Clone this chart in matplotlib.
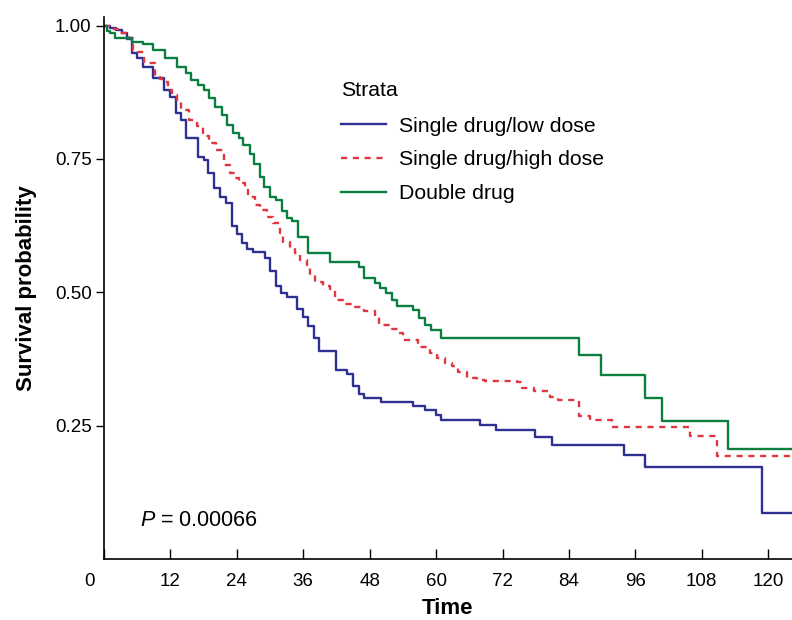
import matplotlib
matplotlib.use("Agg")
import matplotlib.pyplot as plt
import matplotlib.transforms as mtransforms

plt.rcParams['font.family'] = ['Liberation Sans', 'DejaVu Sans']
plt.rcParams['mathtext.fontset'] = 'custom'
plt.rcParams['mathtext.it'] = 'Liberation Sans:italic'
plt.rcParams['mathtext.rm'] = 'Liberation Sans'

# Kaplan-Meier steps (time, survival after the drop)
low_time = [0, 1.1, 2.1, 3.2, 4.1, 5.0, 5.9, 7.0, 8.9, 10.8, 12.0, 13.0, 13.9, 14.9,
            16.9, 18.0, 18.8, 19.9, 21.0, 22.0, 23.1, 24.0, 25.0, 25.9, 27.0, 29.1,
            30.0, 31.0, 31.9, 33.0, 34.9, 35.9, 36.9, 38.0, 38.9, 41.9, 43.9, 44.9,
            46.0, 47.0, 50.0, 55.9, 58.0, 60.0, 60.9, 68.0, 70.8, 77.9, 80.9, 93.9,
            97.8, 118.9]
low_surv = [1.0, 0.995, 0.991, 0.986, 0.975, 0.948, 0.939, 0.923, 0.901, 0.879, 0.866,
            0.836, 0.823, 0.790, 0.754, 0.748, 0.723, 0.695, 0.679, 0.668, 0.624, 0.609,
            0.592, 0.581, 0.576, 0.564, 0.539, 0.511, 0.498, 0.492, 0.468, 0.454, 0.436,
            0.415, 0.389, 0.354, 0.347, 0.324, 0.309, 0.301, 0.295, 0.287, 0.279, 0.270,
            0.261, 0.251, 0.242, 0.228, 0.214, 0.195, 0.173, 0.086]

high_time = [0, 1.5, 2.8, 3.9, 4.6, 5.2, 6.2, 7.3, 9.2, 10.2, 11.2, 11.6, 12.3, 13.1,
             14.0, 15.3, 16.8, 17.9, 19.0, 20.2, 21.6, 22.8, 23.7, 24.3, 25.5, 26.1,
             27.3, 28.2, 29.5, 30.6, 31.8, 32.3, 33.6, 34.5, 35.4, 36.6, 37.2, 38.1,
             39.6, 40.8, 41.7, 43.3, 45.1, 46.9, 49.0, 49.6, 52.0, 53.2, 54.1, 56.8,
             58.9, 60.1, 61.6, 62.8, 64.0, 65.5, 67.3, 68.9, 74.6, 75.5, 77.6, 80.6,
             82.1, 85.8, 87.8, 91.8, 105.8, 110.8]
high_surv = [1.0, 0.993, 0.986, 0.981, 0.977, 0.954, 0.950, 0.930, 0.904, 0.900, 0.895,
             0.879, 0.870, 0.858, 0.842, 0.823, 0.811, 0.792, 0.780, 0.767, 0.739, 0.723,
             0.714, 0.704, 0.695, 0.679, 0.664, 0.654, 0.642, 0.629, 0.611, 0.595, 0.583,
             0.573, 0.561, 0.548, 0.533, 0.520, 0.511, 0.506, 0.486, 0.478, 0.472, 0.464,
             0.453, 0.439, 0.431, 0.423, 0.411, 0.398, 0.386, 0.376, 0.367, 0.361, 0.351,
             0.339, 0.336, 0.334, 0.331, 0.320, 0.314, 0.303, 0.298, 0.268, 0.261, 0.248,
             0.231, 0.194]

double_time = [0, 0.5, 1.1, 2.0, 5.0, 7.1, 8.9, 11.0, 13.1, 14.9, 15.8, 17.0, 18.0, 19.0,
               20.1, 21.3, 22.2, 23.3, 24.3, 25.2, 26.3, 27.1, 28.1, 28.9, 30.0, 31.1,
               32.1, 33.0, 33.9, 35.0, 36.9, 40.8, 46.1, 47.0, 49.0, 49.9, 51.0, 52.0,
               53.0, 55.9, 57.0, 58.0, 59.0, 60.8, 85.8, 89.8, 97.8, 100.8, 112.8]
double_surv = [1.0, 0.99, 0.986, 0.976, 0.970, 0.965, 0.954, 0.939, 0.923, 0.911, 0.898,
               0.889, 0.879, 0.864, 0.848, 0.833, 0.814, 0.798, 0.789, 0.776, 0.759, 0.740,
               0.717, 0.698, 0.679, 0.673, 0.653, 0.639, 0.633, 0.604, 0.573, 0.556, 0.547,
               0.526, 0.518, 0.508, 0.498, 0.486, 0.474, 0.466, 0.451, 0.439, 0.429, 0.415,
               0.383, 0.344, 0.301, 0.259, 0.206]

max_time = 125
strata = ['Single drug/low dose', 'Single drug/high dose', 'Double drug']
x_ticks = [0, 12, 24, 36, 48, 60, 72, 84, 96, 108, 120]
y_ticks = [0.25, 0.50, 0.75, 1.00]
p_text = r'$\it{P}$ = 0.00066'

fig = plt.figure(figsize=(7.92, 6.2), dpi=100)
ax = fig.add_axes([104 / 792, 61 / 620, 688 / 792, 542 / 620])

curves = [(low_time, low_surv, '#2E3192', '-'),
          (high_time, high_surv, '#E0373F', (0, (2.6, 2.4))),
          (double_time, double_surv, '#0B7F3F', '-')]
for (t, s, c, ls), name in zip(curves, strata):
    ax.step(list(t) + [max_time], list(s) + [s[-1]], where='post',
            color=c, linestyle=ls, linewidth=1.7, label=name)

ax.set_xlim(0, 124.3)
ax.set_ylim(0, 1.016)
ax.spines['top'].set_visible(False)
ax.spines['right'].set_visible(False)
for sp in ['left', 'bottom']:
    ax.spines[sp].set_linewidth(1.2)

ax.set_xticks(x_ticks)
ax.set_yticks(y_ticks)
ax.set_yticklabels([f'{v:.2f}' for v in y_ticks])
ax.tick_params(axis='x', direction='in', length=7, width=1, labelsize=13.5, pad=10)
ax.tick_params(axis='y', direction='out', length=6, width=1, labelsize=13.5, pad=3)
# the "0" label sits left of the axis corner
lbl0 = ax.get_xticklabels()[0]
lbl0.set_transform(lbl0.get_transform() +
                   mtransforms.ScaledTranslation(-0.15, 0, fig.dpi_scale_trans))

ax.set_xlabel('Time', fontsize=16, fontweight='bold', labelpad=6)
ax.set_ylabel('Survival probability', fontsize=16, fontweight='bold', labelpad=13)

ax.text(6.5, 0.073, p_text, fontsize=15.5, va='center', ha='left')

leg = ax.legend(title='Strata', loc='upper left', bbox_to_anchor=(0.3445, 0.882),
                frameon=False, fontsize=15.3, title_fontsize=15.3, alignment='left',
                handlelength=2.1, handletextpad=0.62, labelspacing=0.7,
                borderpad=0, borderaxespad=0)
leg._legend_box.sep = 12

fig.savefig('out.png', dpi=100)
